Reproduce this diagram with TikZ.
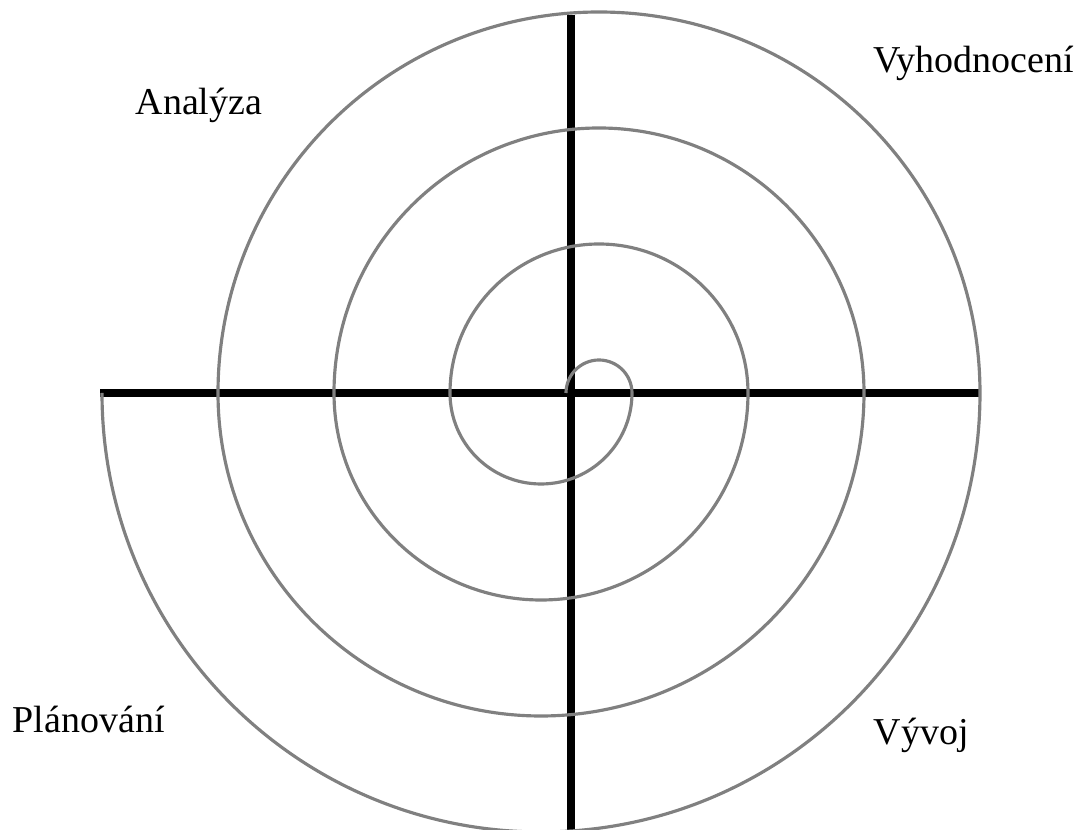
\documentclass[tikz,border=0pt]{standalone}
\usepackage{fontspec}
\setmainfont{Liberation Serif}
\usepackage{tikz}
\usetikzlibrary{positioning}
\definecolor{spiralgrey}{RGB}{128,128,128}
\tikzset{
  axisline/.style={draw=black,line width=2pt},
  spiralline/.style={draw=spiralgrey,line width=0.9pt},
  phaselabel/.style={font=\fontsize{10.8}{13}\selectfont,inner sep=0pt,anchor=base west}
}

\begin{document}
\begin{tikzpicture}[x=0.01cm,y=0.01cm]
  \useasboundingbox (0,0) rectangle (1081,830);
  % axes
  \coordinate (west) at (100,437);
  \coordinate (east) at (980,437);
  \coordinate (north) at (571,815);
  \coordinate (south) at (571,0);
  \draw[axisline] (west) -- (east);
  \draw[axisline] (north) -- (south);
  % spiral from the centre outwards
  \coordinate (start) at (566,437);
  \draw[spiralline] (start)
    arc[start angle=180,end angle=0,radius=33]
    arc[start angle=0,end angle=-180,radius=91]
    arc[start angle=180,end angle=0,radius=149]
    arc[start angle=0,end angle=-180,radius=207]
    arc[start angle=180,end angle=0,radius=265]
    arc[start angle=0,end angle=-180,radius=323]
    arc[start angle=180,end angle=0,radius=381]
    arc[start angle=0,end angle=-180,radius=439];
  % phases
  \node[phaselabel] (analyza) at (135,715) {Analýza};
  \node[phaselabel] (vyhodnoceni) at (873,757) {Vyhodnocení};
  \node[phaselabel] (planovani) at (12,97) {Plánování};
  \node[phaselabel] (vyvoj) at (873,85) {Vývoj};
\end{tikzpicture}
\end{document}
